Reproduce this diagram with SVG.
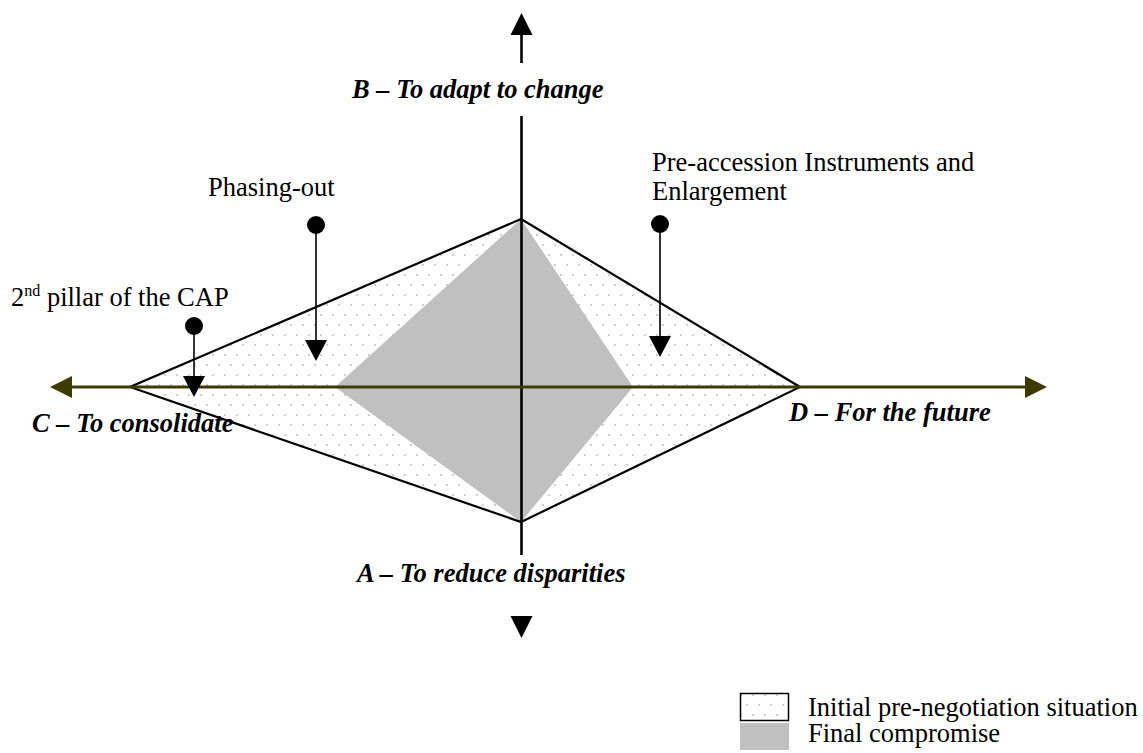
<svg xmlns="http://www.w3.org/2000/svg" width="1143" height="753" viewBox="0 0 1143 753">
  <style>
    .lbl { font-family: "Liberation Serif", "Times New Roman", serif; font-size: 26.5px; fill: #000; }
    .axis-lbl { font-family: "Liberation Serif", "Times New Roman", serif; font-size: 26.5px; font-weight: bold; font-style: italic; fill: #000; }
    .edge { fill: none; stroke: #000; stroke-width: 2.2; }
    .vaxis { stroke: #000; stroke-width: 2.6; fill: none; }
    .haxis { stroke: #3c3c00; stroke-width: 2.8; fill: none; }
    .call { stroke: #000; stroke-width: 1.6; fill: none; }
    .head { fill: #000; }
    .dot { fill: #000; }
  </style>
  <defs>
    <pattern id="dots" x="0" y="0" width="12" height="20" patternUnits="userSpaceOnUse">
      <rect width="12" height="20" fill="#fff"/>
      <circle cx="3" cy="5" r="1.1" fill="#c4c4c4"/>
      <circle cx="9" cy="15" r="1.1" fill="#c4c4c4"/>
    </pattern>
  </defs>
  <rect width="1143" height="753" fill="#fff"/>

  <g id="initial-area">
    <polygon points="521,219 800,387 521,522 130,387" fill="url(#dots)"/>
  </g>
  <g id="final-area">
    <polygon points="521,219 633,387 521,522 335,387" fill="#c0c0c0"/>
  </g>
  <g id="initial-outline">
    <polygon class="edge" points="521,219 800,387 521,522 130,387"/>
  </g>

  <g id="connectors">
    <!-- vertical axis -->
    <line class="vaxis" x1="521.5" y1="34" x2="521.5" y2="63"/>
    <polygon class="head" points="521.5,13 510.5,35 532.5,35"/>
    <line class="vaxis" x1="521.5" y1="116" x2="521.5" y2="555"/>
    <polygon class="head" points="521.5,638 510.5,616 532.5,616"/>
    <!-- horizontal axis -->
    <line class="haxis" x1="70" y1="387" x2="1027" y2="387"/>
    <polygon points="50,387 72,376 72,398" fill="#3c3c00"/>
    <polygon points="1047,387 1025,376 1025,398" fill="#3c3c00"/>
    <!-- callouts -->
    <line class="call" x1="194" y1="326" x2="194" y2="377"/>
    <polygon class="head" points="194,397 183,376 205,376"/>
    <line class="call" x1="316" y1="225" x2="316" y2="341"/>
    <polygon class="head" points="316,361 305,340 327,340"/>
    <line class="call" x1="660" y1="224" x2="660" y2="337"/>
    <polygon class="head" points="660,357 649,336 671,336"/>
  </g>

  <g id="callout-pillar">
    <circle class="dot" cx="194" cy="326" r="9"/>
    <text class="lbl" x="11" y="306">2<tspan font-size="16" dy="-10">nd</tspan><tspan dy="10"> pillar of the CAP</tspan></text>
  </g>
  <g id="callout-phasing">
    <circle class="dot" cx="316" cy="225" r="9"/>
    <text class="lbl" x="208" y="196">Phasing-out</text>
  </g>
  <g id="callout-preaccession">
    <circle class="dot" cx="660" cy="224" r="9"/>
    <text class="lbl" x="652" y="171">Pre-accession Instruments and</text>
    <text class="lbl" x="652" y="200">Enlargement</text>
  </g>

  <g id="label-B"><text class="axis-lbl" x="352" y="98">B – To adapt to change</text></g>
  <g id="label-A"><text class="axis-lbl" x="357" y="582">A – To reduce disparities</text></g>
  <g id="label-C"><text class="axis-lbl" x="32" y="432">C – To consolidate</text></g>
  <g id="label-D"><text class="axis-lbl" x="789" y="421">D – For the future</text></g>

  <g id="legend">
    <rect x="740.5" y="693.5" width="48" height="27" fill="url(#dots)" stroke="#000" stroke-width="1.5"/>
    <text class="lbl" x="808" y="716">Initial pre-negotiation situation</text>
    <rect x="740" y="723" width="49" height="27" fill="#c0c0c0"/>
    <text class="lbl" x="808" y="742">Final compromise</text>
  </g>
</svg>
